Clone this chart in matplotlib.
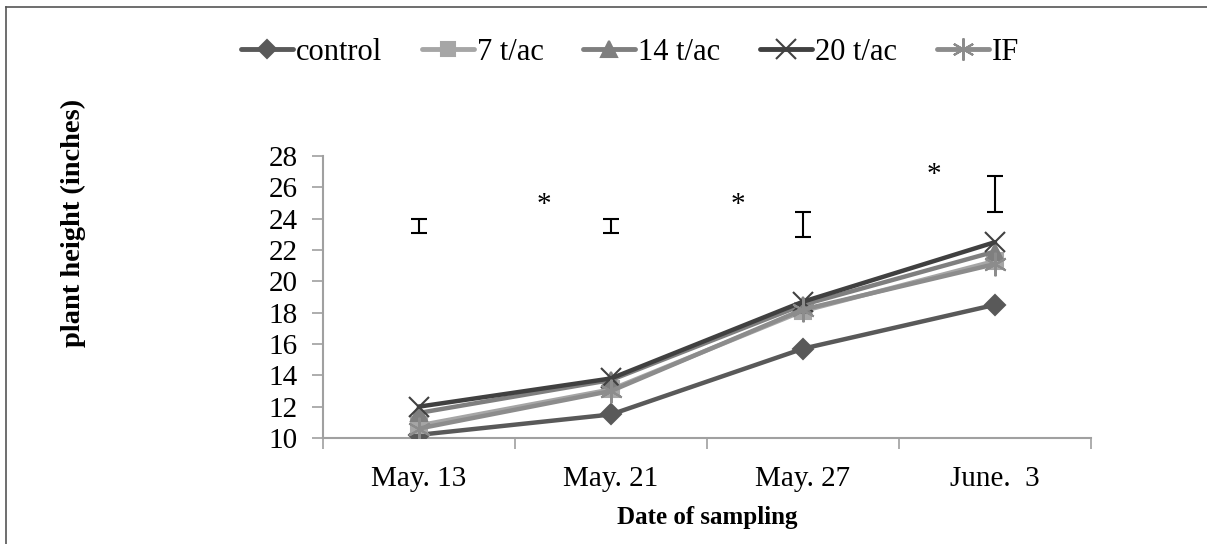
import matplotlib.pyplot as plt
from matplotlib.lines import Line2D

plt.rcParams['font.family'] = ['Liberation Serif', 'DejaVu Serif']

dates = ['May. 13', 'May. 21', 'May. 27', 'June.  3']
control = [10.2, 11.5, 15.7, 18.5]
t7 = [10.8, 13.1, 18.1, 21.3]
t14 = [11.6, 13.7, 18.5, 21.9]
t20 = [12.0, 13.8, 18.7, 22.5]
IF = [10.6, 13.0, 18.2, 21.1]

# LSD bars (low, high) and significance stars (x, y)
lsd_low = [23.1, 23.1, 22.8, 24.4]
lsd_high = [24.0, 24.0, 24.4, 26.7]
star_x = [0.65, 1.66, 2.68]
star_y = [24.9, 24.9, 26.8]

fig = plt.figure(figsize=(12.07, 5.44), dpi=100)
ax = fig.add_axes([0.2676, 0.1949, 0.6363, 0.5184])

x = range(len(dates))
series = [
    ('control', control, '#595959', 'D', 10),
    ('7 t/ac', t7, '#a6a6a6', 's', 11),
    ('14 t/ac', t14, '#7f7f7f', '^', 12),
    ('20 t/ac', t20, '#404040', 'x', 15),
    ('IF', IF, '#8c8c8c', (6, 2, 0), 17),
]
handles = []
for name, vals, col, mk, ms in series:
    ax.plot(x, vals, color=col, lw=3.2, marker=mk, ms=ms, mec=col, mfc=col,
            mew=1.5, solid_capstyle='round', zorder=3)
    handles.append(Line2D([], [], color=col, lw=3.5, marker=mk, ms=ms - 1, mec=col,
                          mfc=col, mew=1.5, solid_capstyle='round', label=name))

mid = [(a + b) / 2 for a, b in zip(lsd_low, lsd_high)]
half = [(b - a) / 2 for a, b in zip(lsd_low, lsd_high)]
ax.errorbar(x, mid, yerr=half, fmt='none', ecolor='black', elinewidth=1.5,
            capsize=5.5, capthick=1.5)
for sx, sy in zip(star_x, star_y):
    ax.text(sx, sy, '*', ha='center', va='center', fontsize=21)

ax.set_xlim(-0.5, 3.5)
ax.set_ylim(10, 28)
ax.set_yticks(range(10, 29, 2))
ax.set_xticks(list(x))
ax.set_xticklabels(dates)
ax.set_xticks([-0.5, 0.5, 1.5, 2.5, 3.5], minor=True)
ax.tick_params(axis='x', which='major', length=0, labelsize=21, pad=20)
ax.tick_params(axis='x', which='minor', length=8, color='#a0a0a0', width=1.2)
ax.tick_params(axis='y', length=8, color='#a0a0a0', width=1.2, labelsize=21, pad=10)
for s in ['top', 'right']:
    ax.spines[s].set_visible(False)
for s in ['left', 'bottom']:
    ax.spines[s].set_color('#a0a0a0')
    ax.spines[s].set_linewidth(1.5)

ax.set_xlabel('Date of sampling', fontsize=18, fontweight='bold', labelpad=10)
fig.text(0.0605, 0.59, 'plant height (inches)', rotation=90, ha='center',
         va='center', fontsize=20.5, fontweight='bold')

fig.legend(handles=handles, loc='center', bbox_to_anchor=(0.522, 0.904), ncol=5,
           frameon=False, fontsize=22, handlelength=1.7, handletextpad=0.1,
           columnspacing=1.3)

fig.add_artist(Line2D([6 / 1207, 1], [1 - 7 / 544, 1 - 7 / 544],
                      transform=fig.transFigure, color='#555555', lw=1.2))
fig.add_artist(Line2D([6 / 1207, 6 / 1207], [0, 1 - 7 / 544],
                      transform=fig.transFigure, color='#555555', lw=1.2))

fig.savefig('out.png', dpi=100)
